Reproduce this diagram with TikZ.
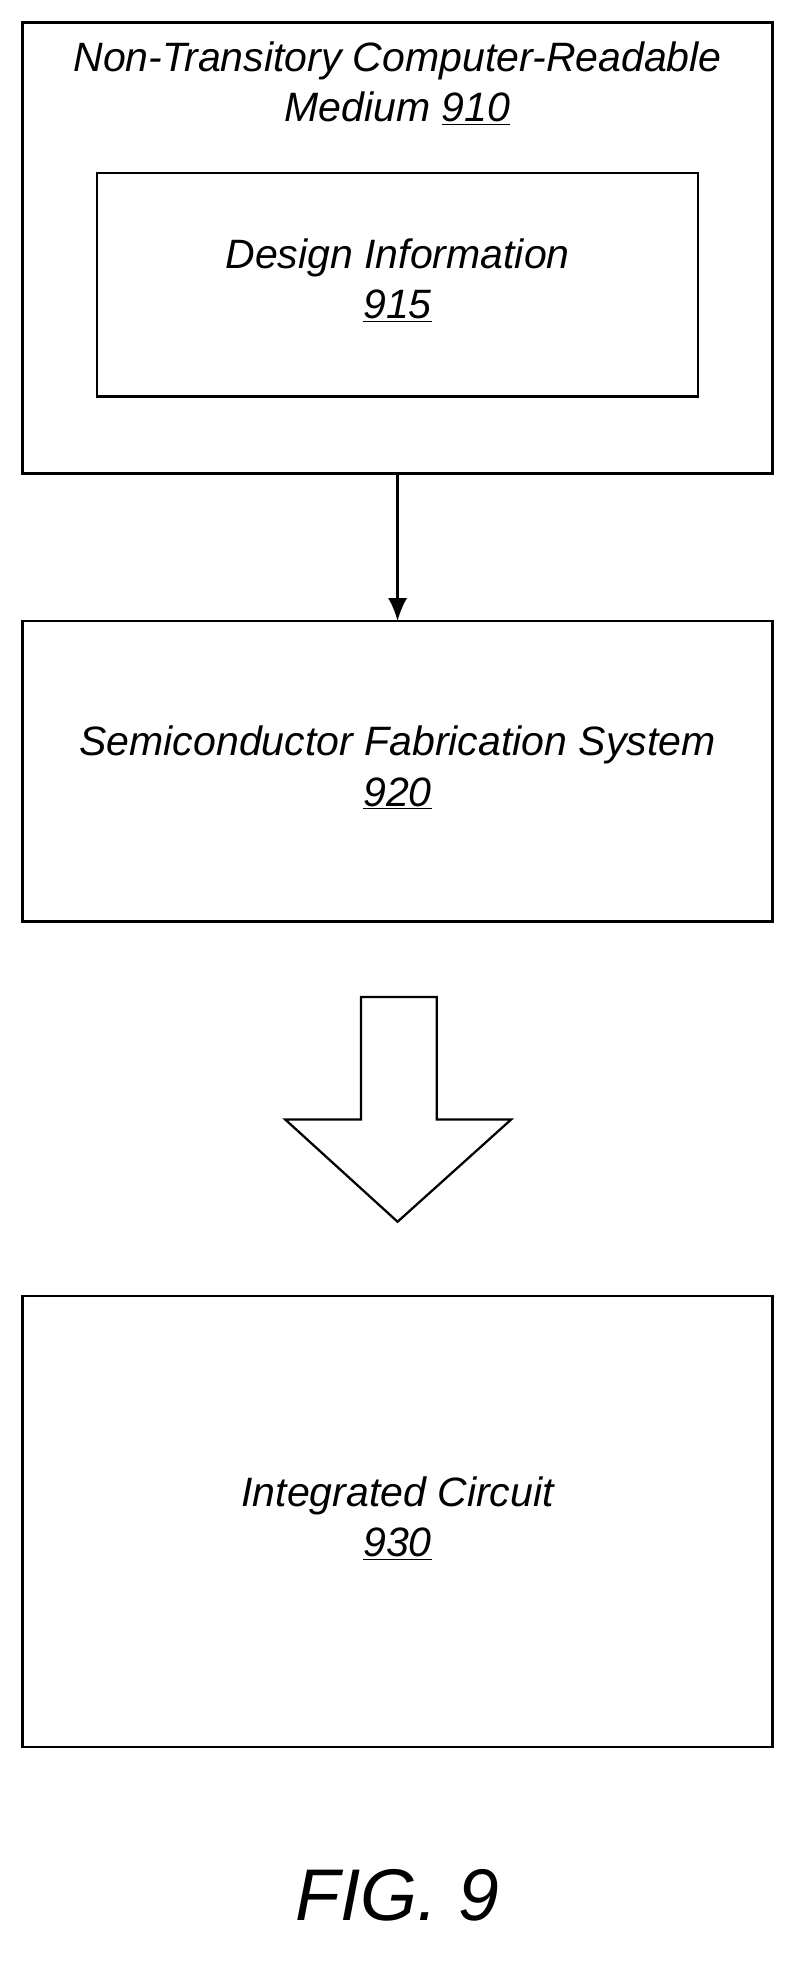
\documentclass[tikz,border=0pt]{standalone}
\usepackage{fontspec}
\setmainfont{Liberation Sans}
\usetikzlibrary{arrows.meta}
\begin{document}
\begin{tikzpicture}[x=1pt,y=-1pt,line width=2pt,
  box/.style={draw,black},
  lbl/.style={font=\fontsize{32.5}{40}\selectfont\itshape,align=center}]
\useasboundingbox (0,0) rectangle (630,1568);
\draw[box] (18,18) rectangle (612,375);
\node[lbl] (t910) at (315,66) {Non-Transitory Computer-Readable\\Medium \underline{910}};
\draw[box] (77,137) rectangle (553,314);
\node[lbl] (t915) at (315,222) {Design Information\\\underline{915}};
\draw[box] (18,492) rectangle (612,730);
\node[lbl] (t920) at (315,608) {Semiconductor Fabrication System\\\underline{920}};
\draw[box] (18,1027) rectangle (612,1384);
\node[lbl] (t930) at (315,1203) {Integrated Circuit\\\underline{930}};
\coordinate (a1) at (315,375);
\coordinate (a2) at (315,492);
\draw[-{Latex[length=18pt,width=15pt]}] (a1) -- (a2);
\draw[line width=1.8pt,line join=miter] (286,790) -- (346,790) -- (346,887) -- (405,887) -- (315,968) -- (226,887) -- (286,887) -- cycle;
\node[font=\fontsize{58}{62}\selectfont\itshape] (fig) at (315,1502) {FIG. 9};
\end{tikzpicture}
\end{document}
